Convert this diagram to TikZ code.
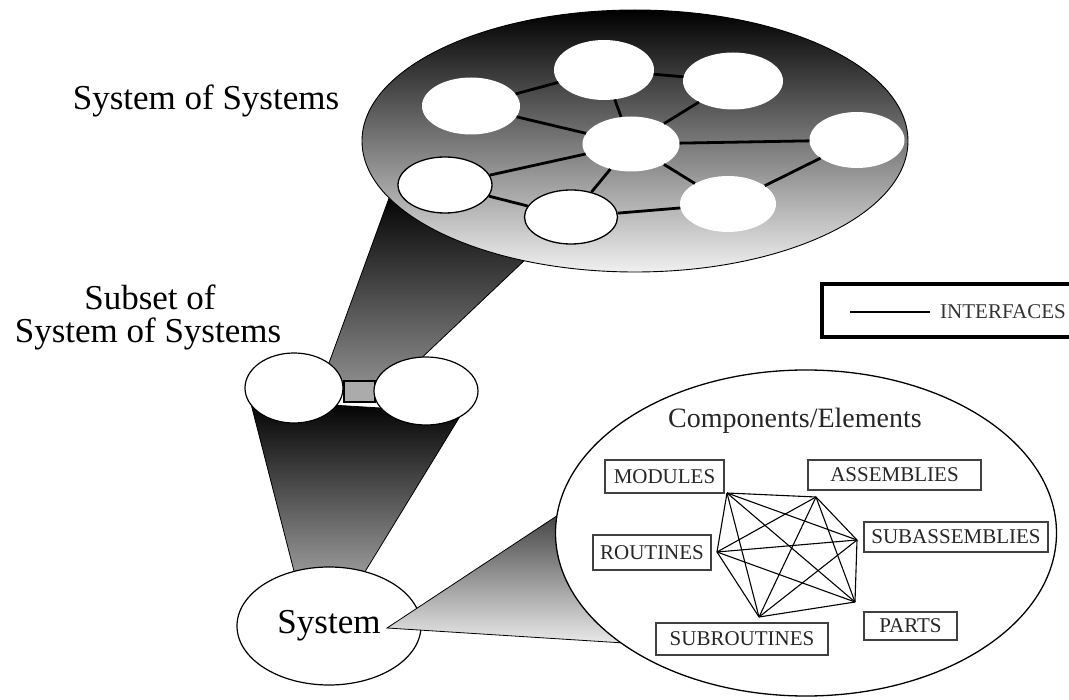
\documentclass[tikz,border=0pt]{standalone}
\usepackage{fontspec}
\setmainfont{Liberation Serif}
\usetikzlibrary{shapes.geometric}
\begin{document}
\begin{tikzpicture}[x=1pt,y=-1pt,
  bigtxt/.style={inner sep=0pt, font=\fontsize{35}{40}\selectfont, anchor=base},
  bub/.style={ellipse, inner sep=0pt, fill=white, minimum width=98pt, minimum height=57pt},
  bubo/.style={bub, draw=black, line width=1.3pt},
  iface/.style={line width=2.8pt},
  funnel/.style={draw=black, line width=0.8pt},
  comp/.style={draw=black!75, line width=1.4pt, inner sep=0pt, font=\fontsize{21}{24}\selectfont, text=black!85},
  web/.style={line width=1.1pt},
  oval/.style={ellipse, inner sep=0pt, fill=white, draw=black, line width=1.2pt}
]
\useasboundingbox (0,0) rectangle (1069,700);

% funnels behind
\shade[funnel, top color=black, bottom color=black!45]
  (392,190) -- (546,240) -- (393,385) -- (321,385) -- cycle;
\shade[funnel, top color=black, bottom color=black!40]
  (250,400) -- (462,413) -- (363,575) -- (295,575) -- cycle;
\path[fill=black!33, draw=black, line width=1.8pt] (344,381) rectangle (375,402);

% subset pair
\node[oval, minimum width=98pt, minimum height=70pt] (s1) at (294,388) {};
\node[oval, minimum width=104pt, minimum height=68pt] (s2) at (426,391) {};

% big ellipse (system of systems)
\node[ellipse, inner sep=0pt, minimum width=546pt, minimum height=262pt,
      draw=black, line width=0.9pt, top color=black, middle color=black!60,
      bottom color=white!94!black] (sos) at (635,141) {};

\node[bub]  (A) at (471,106) {};
\node[bub, minimum width=100pt, minimum height=60pt] (B) at (604,70) {};
\node[bub, minimum width=100pt] (C) at (733,81) {};
\node[bub, minimum width=97pt, minimum height=55pt] (D) at (631,144) {};
\node[bub, minimum width=95pt, minimum height=56pt] (E) at (857,140) {};
\node[bubo, minimum width=94pt, minimum height=56pt] (F) at (445,185) {};
\node[bubo, minimum width=93pt, minimum height=54pt] (G) at (571,217) {};
\node[bub, minimum width=96pt, minimum height=56pt] (H) at (728,204) {};

\draw[iface] (A) -- (B);
\draw[iface] (A) -- (D);
\draw[iface] (B) -- (C);
\draw[iface] (B) -- (D);
\draw[iface] (C) -- (D);
\draw[iface] (D) -- (E);
\draw[iface] (D) -- (F);
\draw[iface] (D) -- (G);
\draw[iface] (D) -- (H);
\draw[iface] (E) -- (H);
\draw[iface] (F) -- (G);
\draw[iface] (G) -- (H);

% system
\node[oval, minimum width=184pt, minimum height=118pt, font=\fontsize{35}{40}\selectfont] (sys) at (329,626) {System};

% triangle to components
\shade[funnel, top color=black, bottom color=black!8]
  (387,628) -- (640,461) -- (640,644) -- cycle;

% components ellipse
\node[oval, minimum width=501pt, minimum height=326pt, line width=1.3pt] (ce) at (806,533) {};
\node[inner sep=0pt, font=\fontsize{28}{32}\selectfont, text=black!85] (cet) at (795,421) {Components/Elements};

\node[comp, minimum width=119pt, minimum height=33pt] (mod) at (664.5,476.5) {MODULES};
\node[comp, minimum width=173pt, minimum height=30pt] (asm) at (894.5,475) {ASSEMBLIES};
\node[comp, minimum width=184pt, minimum height=30pt] (sub) at (956,537) {SUBASSEMBLIES};
\node[comp, minimum width=118pt, minimum height=35pt] (rou) at (652,552.5) {ROUTINES};
\node[comp, minimum width=172pt, minimum height=32pt] (srou) at (742,639) {SUBROUTINES};
\node[comp, minimum width=93pt, minimum height=28pt] (par) at (910.5,626) {PARTS};

\coordinate (p1) at (727,493);
\coordinate (p2) at (816,497);
\coordinate (p3) at (857,540);
\coordinate (p4) at (855,602);
\coordinate (p5) at (759,617);
\coordinate (p6) at (717,552);
\foreach \i/\j in {1/2,1/3,1/4,1/5,1/6,2/3,2/4,2/5,2/6,3/4,3/5,3/6,4/5,4/6,5/6}
  \draw[web] (p\i) -- (p\j);

% labels
\node[bigtxt] (t1) at (206,110) {System of Systems};
\node[bigtxt] (t2) at (150,310) {Subset of};
\node[bigtxt] (t3) at (148,343) {System of Systems};

% legend
\draw[line width=3.2pt] (1070,284) -- (822,284) -- (822,337) -- (1070,337);
\coordinate (l1) at (850,312);
\coordinate (l2) at (930,312);
\draw[line width=2.8pt] (l1) -- (l2);
\node[anchor=west, inner sep=0pt, font=\fontsize{21}{24}\selectfont, text=black!80] (lt) at (940,312) {INTERFACES};
\end{tikzpicture}
\end{document}
